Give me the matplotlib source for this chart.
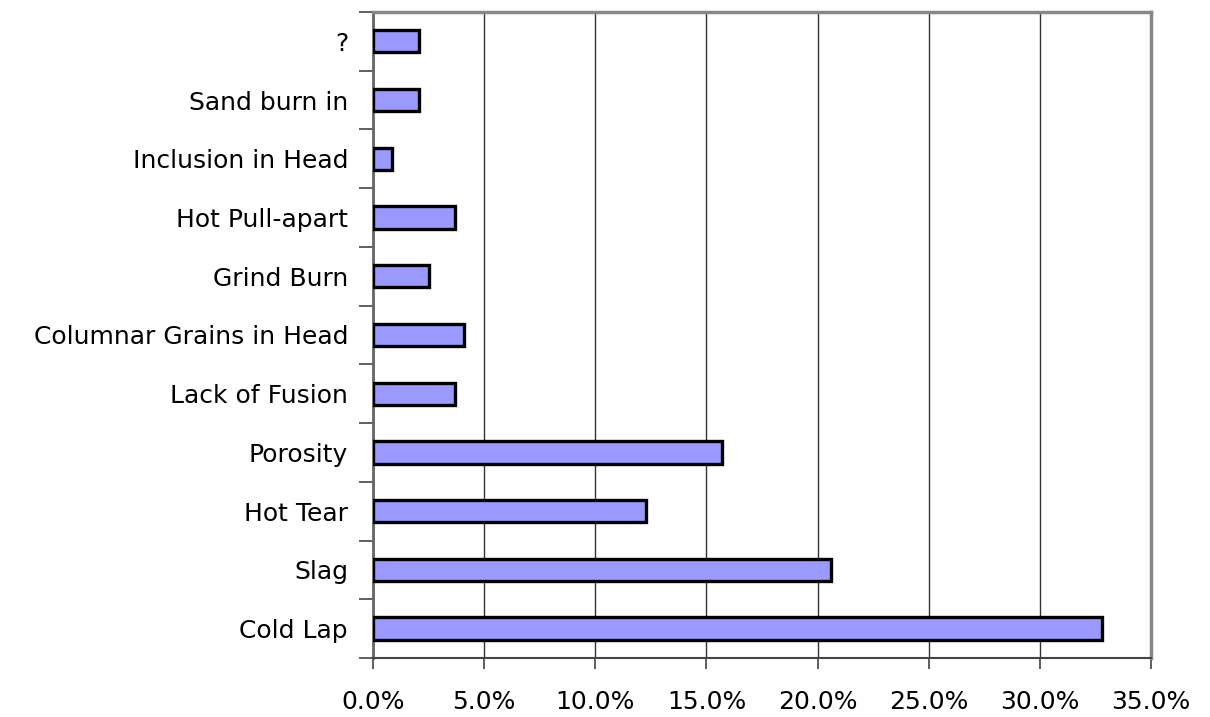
import numpy as np
import matplotlib.pyplot as plt
from matplotlib.ticker import FuncFormatter

# defect categories, bottom to top
categories = ["Cold Lap", "Slag", "Hot Tear", "Porosity", "Lack of Fusion",
              "Columnar Grains in Head", "Grind Burn", "Hot Pull-apart",
              "Inclusion in Head", "Sand burn in", "?"]
share_pct = [32.8, 20.6, 12.3, 15.7, 3.7, 4.1, 2.5, 3.7, 0.85, 2.05, 2.05]
x_ticks = [0, 5, 10, 15, 20, 25, 30, 35]

plt.rcParams['font.family'] = ['DejaVu Sans']

fig = plt.figure(figsize=(12.1, 7.17), dpi=100)
ax = fig.add_axes([0.3083, 0.0823, 0.9512 - 0.3083, 0.9833 - 0.0823])

y = np.arange(len(categories))
ax.barh(y, share_pct, height=0.38, color="#9999ff", edgecolor="black",
        linewidth=2.4, zorder=3)

ax.set_xlim(0, 35)
ax.set_ylim(-0.5, len(categories) - 0.5)

# vertical gridlines
ax.set_xticks(x_ticks)
ax.xaxis.set_major_formatter(FuncFormatter(lambda v, p: f"{v:.1f}%"))
ax.grid(axis="x", color="#333333", linewidth=1.0, zorder=0)
ax.tick_params(axis="x", direction="out", length=8, width=1.2, color="#444444",
               labelsize=18, pad=15)

# category labels centred on bars, tick marks between categories
ax.set_yticks(y)
ax.set_yticklabels(categories)
ax.tick_params(axis="y", which="major", length=0, labelsize=18, pad=18)
ax.set_yticks(np.arange(-0.5, len(categories)), minor=True)
ax.tick_params(axis="y", which="minor", direction="out", length=10, width=1.2,
               color="#444444")

for side in ["top", "right"]:
    ax.spines[side].set_color("#888888")
    ax.spines[side].set_linewidth(2.5)
ax.spines["left"].set_color("#666666")
ax.spines["left"].set_linewidth(2.0)
ax.spines["bottom"].set_color("#444444")
ax.spines["bottom"].set_linewidth(1.5)

fig.savefig("out.png", dpi=100)
